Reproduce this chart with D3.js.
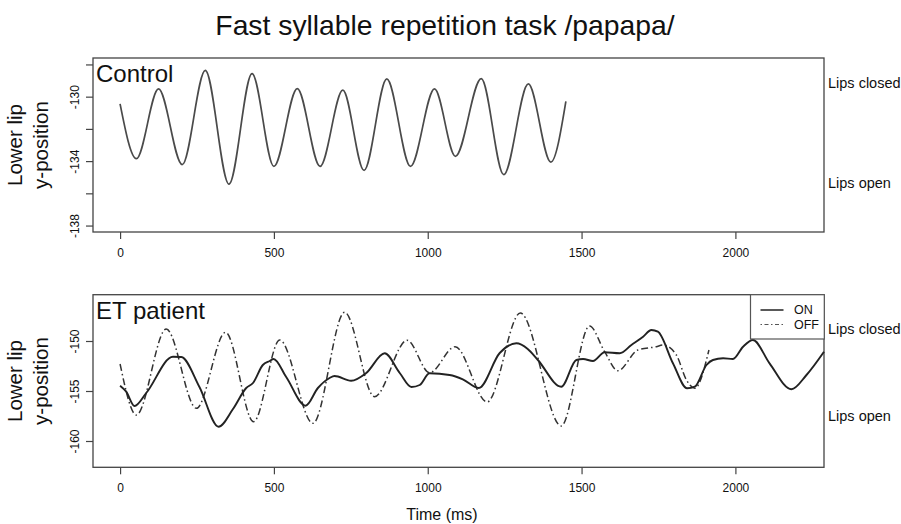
<!DOCTYPE html>
<html>
<head>
<meta charset="utf-8">
<script src="https://d3js.org/d3.v7.min.js"></script>
<style>
  body { margin: 0; background: #fff; }
  text { font-family: "Liberation Sans", Arial, sans-serif; fill: #111; }
</style>
</head>
<body>
<div id="chart"></div>
<script>
// Data
var xTicks = [0, 500, 1000, 1500, 2000];

var controlTime = [0, 53, 125, 202, 277, 354, 429, 500, 576, 650, 724, 793, 867, 944, 1022, 1090, 1174, 1247, 1327, 1400, 1449];
var controlPos = [-130.45, -133.85, -129.52, -134.22, -128.37, -135.43, -128.57, -134.33, -129.5, -134.33, -129.6, -134.58, -128.9, -134.33, -129.52, -133.7, -128.88, -134.84, -129.21, -134.06, -130.29];
var controlTicks = [-128, -130, -132, -134, -136, -138];
var controlTickLabels = [-130, -134, -138];

var onTime = [0, 20, 47, 85, 172, 199, 258, 320, 367, 410, 432, 464, 486, 499, 540, 603, 643, 681, 697, 751, 800, 860, 909, 947, 974, 1006, 1071, 1114, 1166, 1234, 1288, 1325, 1358, 1434, 1483, 1505, 1537, 1575, 1624, 1662, 1700, 1727, 1748, 1797, 1843, 1868, 1906, 1927, 1960, 1992, 2025, 2057, 2111, 2182, 2231, 2288];
var onPos = [-154.47, -155.07, -156.5, -155.2, -151.57, -151.6, -154.6, -158.57, -156.8, -154.7, -154.2, -152.4, -152.0, -151.8, -153.6, -156.47, -154.7, -153.7, -153.5, -153.97, -153.2, -151.23, -153.2, -154.6, -154.4, -153.23, -153.4, -153.83, -154.7, -151.2, -150.23, -150.8, -151.9, -154.57, -151.9, -151.8, -152.0, -151.13, -151.23, -150.4, -149.57, -148.9, -149.07, -152.23, -154.73, -154.57, -152.4, -151.9, -151.73, -151.8, -150.57, -149.9, -152.23, -154.83, -153.4, -151.07];

var offTime = [0, 53, 150, 248, 343, 434, 519, 627, 730, 827, 933, 1006, 1089, 1193, 1301, 1434, 1526, 1575, 1618, 1683, 1743, 1765, 1808, 1841, 1868, 1914];
var offPos = [-152.3, -157.4, -148.8, -156.73, -149.13, -158.07, -149.9, -158.23, -147.13, -155.57, -149.93, -153.17, -150.57, -156.1, -147.2, -158.5, -148.5, -151.07, -152.97, -150.9, -150.57, -150.4, -151.4, -153.9, -154.73, -150.9];
var etTicks = [-150, -155, -160];

var legendLabels = ["ON", "OFF"];

var svgWidth = 901;
var svgHeight = 524;

var svg = d3.select("#chart")
  .append("svg")
  .attr("width", svgWidth)
  .attr("height", svgHeight);

// shared x scale
var xScale = d3.scaleLinear()
  .domain([-88, 2288])
  .range([93, 824]);

var panels = [
  { name: "Control", top: 58, bottom: 232, domain: [-138.4, -127.6], ticks: controlTicks, labels: controlTickLabels,
    closed: -129.15, open: -135.36 },
  { name: "ET patient", top: 294.7, bottom: 467.3, domain: [-162.63, -145.37], ticks: etTicks, labels: etTicks,
    closed: -148.83, open: -157.5 }
];

panels.forEach(function(p) {
  p.y = d3.scaleLinear().domain(p.domain).range([p.bottom, p.top]);

  // bottom axis
  var bottomAxis = d3.axisBottom(xScale)
    .tickValues(xTicks)
    .tickSize(7)
    .tickPadding(9)
    .tickSizeOuter(0)
    .tickFormat(d => String(d));
  var gx = svg.append("g")
    .attr("transform", `translate(0, ${p.bottom})`)
    .call(bottomAxis);
  gx.select(".domain").remove();
  gx.selectAll("line").attr("stroke", "#444").attr("stroke-width", 1.2);
  gx.selectAll("text")
    .style("font-family", "Liberation Sans, Arial, sans-serif")
    .style("font-size", "12px")
    .attr("fill", "#222");

  // left axis, R style rotated labels
  var leftAxis = d3.axisLeft(p.y)
    .tickValues(p.ticks)
    .tickSize(7)
    .tickSizeOuter(0)
    .tickFormat(function(d) { return p.labels.indexOf(d) >= 0 ? String(d) : ""; });
  var gy = svg.append("g")
    .attr("transform", `translate(${xScale.range()[0]}, 0)`)
    .call(leftAxis);
  gy.select(".domain").remove();
  gy.selectAll("line").attr("stroke", "#444").attr("stroke-width", 1.2);
  gy.selectAll("text")
    .attr("x", null)
    .attr("dy", null)
    .attr("text-anchor", "middle")
    .attr("transform", "translate(-14.5, 0) rotate(-90)")
    .style("font-family", "Liberation Sans, Arial, sans-serif")
    .style("font-size", "12px")
    .attr("fill", "#222");

  // box
  svg.append("rect")
    .attr("x", xScale.range()[0])
    .attr("y", p.top)
    .attr("width", xScale.range()[1] - xScale.range()[0])
    .attr("height", p.bottom - p.top)
    .attr("fill", "none")
    .attr("stroke", "#444")
    .attr("stroke-width", 1.3);

  // panel label
  svg.append("text")
    .attr("x", 96)
    .attr("y", p.top + 24)
    .style("font-size", "24px")
    .attr("fill", "#000")
    .text(p.name);

  // y axis title
  var midY = (p.top + p.bottom) / 2;
  svg.append("text")
    .attr("transform", `translate(22, ${midY}) rotate(-90)`)
    .attr("text-anchor", "middle")
    .style("font-size", "20.5px")
    .text("Lower lip");
  svg.append("text")
    .attr("transform", `translate(48, ${midY}) rotate(-90)`)
    .attr("text-anchor", "middle")
    .style("font-size", "20.5px")
    .text("y-position");

  // right labels
  svg.append("text")
    .attr("x", 828)
    .attr("y", p.y(p.closed))
    .attr("dy", "0.35em")
    .style("font-size", "14.5px")
    .text("Lips closed");
  svg.append("text")
    .attr("x", 828)
    .attr("y", p.y(p.open))
    .attr("dy", "0.35em")
    .style("font-size", "14.5px")
    .text("Lips open");
});

// lines
function makeLine(yScale) {
  return d3.line()
    .x(d => xScale(d[0]))
    .y(d => yScale(d[1]))
    .curve(d3.curveMonotoneX);
}

svg.append("path")
  .datum(d3.zip(controlTime, controlPos))
  .attr("d", makeLine(panels[0].y))
  .attr("fill", "none")
  .attr("stroke", "#4a4a4a")
  .attr("stroke-width", 1.7);

svg.append("path")
  .datum(d3.zip(offTime, offPos))
  .attr("d", makeLine(panels[1].y))
  .attr("fill", "none")
  .attr("stroke", "#333")
  .attr("stroke-width", 1.5)
  .attr("stroke-dasharray", "7,3,1.5,3");

svg.append("path")
  .datum(d3.zip(onTime, onPos))
  .attr("d", makeLine(panels[1].y))
  .attr("fill", "none")
  .attr("stroke", "#222")
  .attr("stroke-width", 1.9);

// legend
var legend = svg.append("g");
legend.append("rect")
  .attr("x", 750.5)
  .attr("y", 294.7)
  .attr("width", 73.8)
  .attr("height", 44.3)
  .attr("fill", "#fff")
  .attr("stroke", "#555")
  .attr("stroke-width", 1.2);

legendLabels.forEach(function(lab, i) {
  var ly = 310 + i * 14.5;
  legend.append("line")
    .attr("x1", 760.5)
    .attr("x2", 783.5)
    .attr("y1", ly)
    .attr("y2", ly)
    .attr("stroke", i === 0 ? "#222" : "#555")
    .attr("stroke-width", i === 0 ? 1.5 : 1.2)
    .attr("stroke-dasharray", i === 0 ? null : "1.5,2.5,4,2.5");
  legend.append("text")
    .attr("x", 794)
    .attr("y", ly)
    .attr("dy", "0.35em")
    .style("font-size", "12.5px")
    .text(lab);
});

// titles
svg.append("text")
  .attr("x", 445)
  .attr("y", 34.5)
  .attr("text-anchor", "middle")
  .style("font-size", "28.3px")
  .text("Fast syllable repetition task /papapa/");

svg.append("text")
  .attr("x", 442)
  .attr("y", 520)
  .attr("text-anchor", "middle")
  .style("font-size", "16px")
  .text("Time (ms)");
</script>
</body>
</html>
